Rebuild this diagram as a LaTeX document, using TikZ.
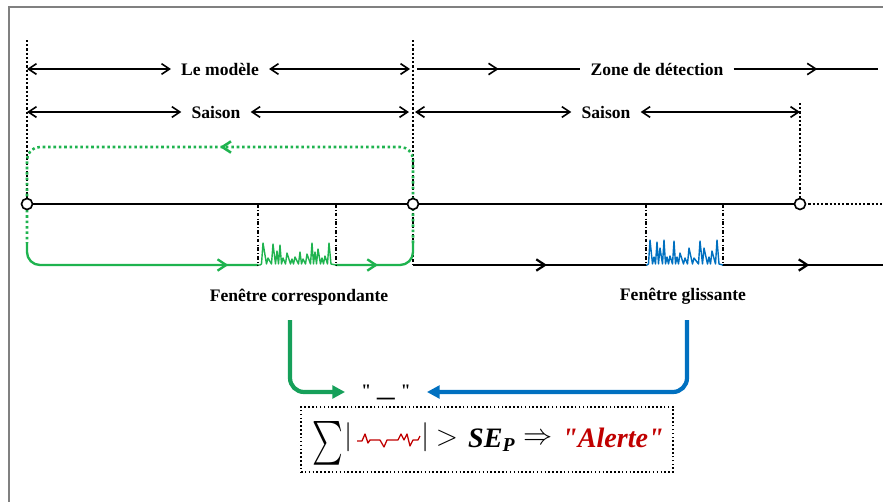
\documentclass[tikz,border=0pt]{standalone}
\usepackage{exscale}
\usepackage{fontspec}
\setmainfont{Liberation Serif}[Ligatures=TeXOff]
\usetikzlibrary{arrows.meta,decorations.markings}
\definecolor{framegray}{HTML}{808080}
\definecolor{loopgreen}{HTML}{1FB34F}
\definecolor{flowgreen}{HTML}{16A05A}
\definecolor{flowblue}{HTML}{0070C0}
\definecolor{alertred}{HTML}{C00000}

\begin{document}
\begin{tikzpicture}[x=0.03cm, y=-0.03cm]
%% one unit is one pixel of the drawing, y grows downwards
\tikzstyle{dim}=[{Straight Barb[length=2.4mm,width=3.2mm]}-{Straight Barb[length=2.4mm,width=3.2mm]}, line width=1.4pt]
\tikzstyle{rule}=[line width=1.4pt]
\tikzstyle{midarrow}=[postaction={decorate}, decoration={markings, mark=at position #1 with {\arrow{Straight Barb[length=2.6mm,width=3.4mm]}}}]
\tikzstyle{guide}=[dash pattern=on 1.9pt off 1.7pt, line width=1.9pt]
\tikzstyle{axis}=[line width=1.9pt]
\tikzstyle{window}=[dash dot, line width=1.3pt]
\tikzstyle{spike}=[line width=1.2pt, line join=round]
\tikzstyle{knot}=[circle, draw, line width=1.4pt, fill=white, minimum size=0.33cm, inner sep=0pt]
\tikzstyle{word}=[font=\bfseries\fontsize{15}{17}\selectfont, inner xsep=0.3cm]
\tikzstyle{flow}=[line width=3.6pt, rounded corners=12pt, -{Triangle[length=3.8mm,width=3.8mm]}]
\tikzstyle{formula}=[inner sep=0pt]
\useasboundingbox (0,0) rectangle (883,502);
%% frame
\draw[framegray, line width=1.6pt] (9,502) -- (9,7) -- (883,7);
%% season boundaries on the time axis
\coordinate (m0) at (27,204);
\coordinate (m1) at (413,204);
\coordinate (m2) at (800,204);
\coordinate (mend) at (883,204);
\coordinate (v0) at (27,40);
\coordinate (v1) at (413,40);
\coordinate (v2) at (800,103);
\coordinate (b1) at (413,265);
\coordinate (bend) at (883,265);
%% windows on the lower line
\coordinate (w0) at (258,265);
\coordinate (w1) at (336,265);
\coordinate (w2) at (646,265);
\coordinate (w3) at (723,265);
%% ends of the green loop
\coordinate (g0) at (27,243);
\coordinate (g1) at (413,243);
\draw[guide] (v0) -- (m0);
\draw[guide] (v1) -- (b1);
\draw[guide] (v2) -- (m2);
%% labels
\node[word] (lm) at (220,69) {Le modèle};
\node[word] (zd) at (657,69) {Zone de détection};
\node[word] (s1) at (216,112) {Saison};
\node[word] (s2) at (606,112) {Saison};
\node[word] (fc) at (299,297) {Fenêtre correspondante};
\node[word] (fg) at (683,296) {Fenêtre glissante};
%% span arrows
\coordinate (a0) at (27,69);
\coordinate (a1) at (410,69);
\coordinate (z0) at (417,69);
\coordinate (z1) at (878,69);
\coordinate (t0) at (27,112);
\coordinate (t1) at (409,112);
\coordinate (t2) at (415,112);
\coordinate (t3) at (800,112);
\draw[dim] (a0) -- (lm);
\draw[dim] (lm) -- (a1);
\draw[rule, midarrow=0.5] (z0) -- (zd);
\draw[rule, midarrow=0.58] (zd) -- (z1);
\draw[dim] (t0) -- (s1);
\draw[dim] (s1) -- (t1);
\draw[dim] (t2) -- (s2);
\draw[dim] (s2) -- (t3);
%% green loop over the model season
\draw[loopgreen, dash pattern=on 2.2pt off 2.4pt, line width=2.2pt, rounded corners=11pt, midarrow=0.5] (g1) -- (413,147) -- (27,147) -- (g0);
\draw[loopgreen, line width=2pt, rounded corners=11pt, midarrow=0.88] (g0) |- (w0);
\draw[loopgreen, line width=2pt, rounded corners=11pt, midarrow=0.45] (w1) -| (g1);
%% time axis
\draw[axis] (m0) -- (m2);
\draw[guide] (m2) -- (mend);
\draw[axis, midarrow=0.575] (b1) -- (w2);
\draw[axis, midarrow=0.54] (w3) -- (bend);
%% window borders
\draw[window] (w0 |- m0) -- (w0);
\draw[window] (w1 |- m0) -- (w1);
\draw[window] (w2 |- m0) -- (w2);
\draw[window] (w3 |- m0) -- (w3);
%% signal inside the matching window
\begin{scope}[shift={(w0)}]
\draw[spike, loopgreen] (0,0) -- (2,0)
  \foreach \p/\h in {5/22,10/7,15/21,19/14,22/20,25/7,29/12,34/6,37/8,42/13,45/6,49/11,54/22,57/13,60/16,64/7,67/9,71/22}
  { -- (\p-1.5,-1) -- (\p,-\h) } -- (73,-1) -- (78,0);
\end{scope}
%% signal inside the sliding window
\begin{scope}[shift={(w2)}]
\draw[spike, flowblue] (0,0) -- (1,0)
  \foreach \p/\h in {4/25,8/8,11/23,14/17,18/25,21/8,24/9,28/24,31/8,34/12,39/7,43/17,48/7,54/24,58/17,63/8,66/14,71/25}
  { -- (\p-1.5,-1) -- (\p,-\h) } -- (73,-1) -- (77,0);
\end{scope}
%% boundary marks
\node[knot] (c0) at (m0) {};
\node[knot] (c1) at (m1) {};
\node[knot] (c2) at (m2) {};
%% difference of the two windows
\coordinate (gs) at (290,320);
\coordinate (bs) at (687,320);
\node[font=\bfseries\fontsize{15}{17}\selectfont, inner xsep=0.48cm] (gap) at (386,392) {"\hspace{0.35em}\scalebox{2}[1.4]{\_}\hspace{0.35em}"};
\draw[flowgreen, flow] (gs) |- (gap);
\draw[flowblue, flow] (bs) |- (gap);
%% alert rule
\node[draw, dotted, line width=1.3pt, minimum width=11.16cm, minimum height=1.95cm] (box) at (487,439.5) {};
\node[formula] (sum) at (327.5,443) {\scalebox{1}[1.5]{\fontsize{28}{28}\selectfont$\sum$}};
\node[formula] (bl) at (349,437.5) {\fontsize{26}{26}\selectfont$|$};
\node[formula] (br) at (426,437.5) {\fontsize{26}{26}\selectfont$|$};
\draw[alertred, line width=1.1pt, line join=round] (357,441) -- (362,441) -- (365,434) -- (368,443) -- (370,440) -- (380,440) -- (384,447) -- (387,440) -- (398,440) -- (401,434) -- (404,440) -- (407,434) -- (410,446) -- (413,440) -- (418,440) -- (420,436);
\node[formula] (gt) at (447,438.5) {\fontsize{26}{26}\selectfont$>$};
\node[formula, anchor=base west] (sep) at (468,447) {\fontsize{24}{24}\selectfont\bfseries\itshape SE\textsubscript{P}};
\node[formula] (imp) at (538,439) {\fontsize{28}{28}\selectfont$\Rightarrow$};
\node[formula, anchor=base west, text=alertred] (alert) at (562,447) {\fontsize{24}{24}\selectfont\bfseries\itshape "Alerte"};
\end{tikzpicture}
\end{document}
